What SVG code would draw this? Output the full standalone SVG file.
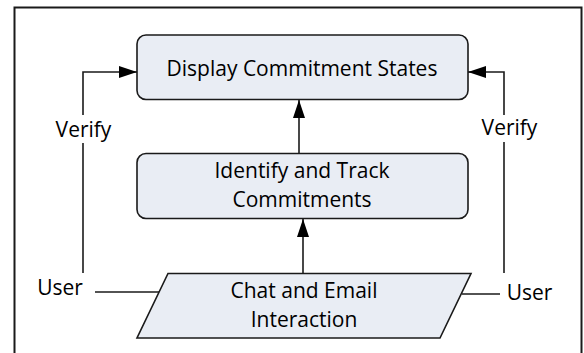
<svg xmlns="http://www.w3.org/2000/svg" width="584" height="353" viewBox="0 0 584 353">
<style>
.box{fill:#E9EDF4;stroke:#1a1a1a;stroke-width:1.6}
.t{font-family:"Open Sans","Noto Sans",sans-serif;font-size:21px;fill:#000;text-anchor:middle}
.ln{fill:none;stroke:#1a1a1a;stroke-width:1.6}
</style>
<defs>
<marker id="ah" viewBox="0 0 18 12" refX="18" refY="6" markerWidth="18" markerHeight="12" markerUnits="userSpaceOnUse" orient="auto">
<path d="M0,0 L18,6 L0,12 z" fill="#000"/>
</marker>
</defs>
<rect x="0" y="0" width="584" height="353" fill="#fff"/>
<rect x="14.5" y="7.5" width="567" height="360" fill="none" stroke="#1a1a1a" stroke-width="2"/>
<g id="display">
<rect class="box" x="137" y="35" width="331" height="64.5" rx="9"/>
<text class="t" x="302" y="75.5">Display Commitment States</text>
</g>
<g id="identify">
<rect class="box" x="137" y="153.5" width="331" height="65" rx="9"/>
<text class="t" x="302" y="178">Identify and Track</text>
<text class="t" x="302" y="207">Commitments</text>
</g>
<g id="chat">
<polygon class="box" points="168,273.5 471,273.5 440,338 137,338"/>
<text class="t" x="304" y="298">Chat and Email</text>
<text class="t" x="304" y="327">Interaction</text>
</g>
<g id="connectors">
<line class="ln" x1="303" y1="273.5" x2="303" y2="219" marker-end="url(#ah)"/>
<line class="ln" x1="299" y1="153.5" x2="299" y2="100" marker-end="url(#ah)"/>
<polyline class="ln" points="83,115 83,72 137,72" marker-end="url(#ah)"/>
<line class="ln" x1="83" y1="143" x2="83" y2="273"/>
<polyline class="ln" points="504,115 504,72 468,72" marker-end="url(#ah)"/>
<line class="ln" x1="504" y1="142" x2="504" y2="273"/>
<line class="ln" x1="95" y1="292" x2="159" y2="292"/>
<line class="ln" x1="462" y1="294" x2="500" y2="294"/>
</g>
<g id="labels">
<text class="t" x="83.5" y="137">Verify</text>
<text class="t" x="509.5" y="135">Verify</text>
<text class="t" x="60" y="295">User</text>
<text class="t" x="529.5" y="300">User</text>
</g>
</svg>
